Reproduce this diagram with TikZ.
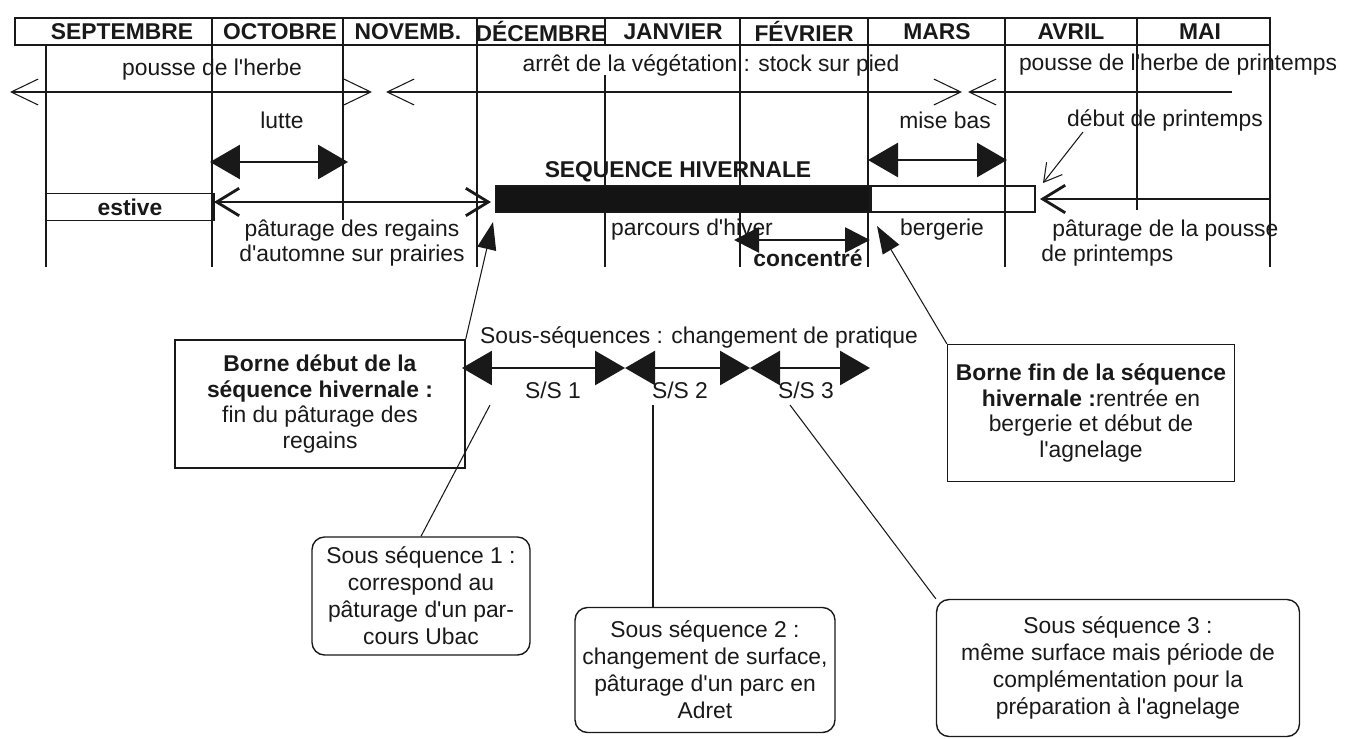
\documentclass[tikz,border=0pt]{standalone}
\usepackage{fontspec}
\setmainfont{Liberation Sans}[Ligatures=TeXOff]
\usetikzlibrary{arrows.meta, positioning, calc}
\definecolor{inkblack}{RGB}{25,25,25}
\definecolor{barblack}{RGB}{20,20,20}
\tikzset{
    barb/.tip={Straight Barb[length=0.54cm, width=0.52cm]},
    fatbarb/.tip={Straight Barb[length=0.45cm, width=0.55cm]},
    bigtri/.tip={Triangle[length=0.6cm, width=0.68cm]},
    midtri/.tip={Triangle[length=0.5cm, width=0.5cm]},
    ptri/.tip={Triangle[length=0.55cm, width=0.38cm]}
}

\begin{document}
\begin{tikzpicture}[x=0.02cm, y=-0.02cm, inkblack,
        txt/.style={inner sep=0pt, font=\fontsize{13pt}{14.7pt}\selectfont},
        bold/.style={inner sep=0pt, font=\fontsize{13pt}{14.7pt}\selectfont\bfseries},
        borne/.style={rectangle, draw, line width=0.8pt, align=center, inner sep=0pt, font=\fontsize{13pt}{14.5pt}\selectfont},
        sous/.style={rectangle, rounded corners=0.25cm, draw, line width=0.8pt, align=center, inner sep=0pt, font=\fontsize{13pt}{15.3pt}\selectfont},
        thin/.style={line width=0.6pt},
        timeline/.style={thin, barb-barb},
        bigarrow/.style={line width=1.6pt, bigtri-bigtri},
        pointer/.style={thin, -ptri}
    ]
        \useasboundingbox (0,0) rectangle (1346,738);

        % months
        \draw[line width=1pt] (15,18) rectangle (1270,45);
        \foreach \x in {212,343,477,605,740,868,1005,1137}
            \draw[thin] (\x,18) -- (\x,45);
        \foreach \name/\x [count=\i] in {SEPTEMBRE/122, OCTOBRE/280, NOVEMB./408, DÉCEMBRE/541, JANVIER/673, FÉVRIER/804, MARS/937, AVRIL/1071, MAI/1200}
            \node[bold] (m\i) at (\x,31.5) {\name};
        \foreach \x/\ya/\yb in {46/45/267, 212/45/267, 343/45/220, 477/45/267, 605/75/267, 740/45/267, 868/45/267, 1005/45/267, 1137/45/210, 1270/45/267}
            \draw[thin] (\x,\ya) -- (\x,\yb);

        % vegetation
        \node[txt] (herbe) at (212,70) {pousse de l'herbe};
        \node[txt] (arret) at (711,65) {arrêt de la végétation : stock sur pied};
        \node[txt] (herbepr) at (1178,65) {pousse de l'herbe de printemps};
        \coordinate (t0) at (10,92);
        \coordinate (t1) at (372,92);
        \coordinate (t2) at (386,92);
        \coordinate (t3) at (962,92);
        \coordinate (t4) at (968,92);
        \coordinate (t5) at (1232,92);
        \draw[timeline] (t0) -- (t1);
        \draw[timeline] (t2) -- (t3);
        \draw[thin, barb-] (t4) -- (t5);

        \node[txt] (lutte) at (282,120) {lutte};
        \node[txt] (misebas) at (945,120) {mise bas};
        \node[txt] (debutpr) at (1165,120) {début de printemps};
        \coordinate (l1) at (210,162);
        \coordinate (l2) at (348,162);
        \coordinate (mb1) at (868,160);
        \coordinate (mb2) at (1007,160);
        \draw[bigarrow] (l1) -- (l2);
        \draw[bigarrow] (mb1) -- (mb2);

        % sequence
        \node[bold] (seq) at (678,172) {SEQUENCE HIVERNALE};
        \node[draw, thin, fill=barblack, minimum width=7.5cm, minimum height=0.52cm, inner sep=0pt] (hiver) at (682.5,199) {};
        \node[draw, thin, minimum width=3.28cm, minimum height=0.52cm, inner sep=0pt, right=0pt of hiver] (berg) {};
        \node[draw, thin, minimum width=3.36cm, minimum height=0.54cm, inner sep=0pt, font=\fontsize{13pt}{14.7pt}\selectfont\bfseries] (estive) at (130,207) {estive};
        \coordinate (pa1) at (214,202);
        \coordinate (pa2) at (491,202);
        \draw[line width=1.6pt, fatbarb-fatbarb] (pa1) -- (pa2);
        \coordinate (r1) at (1270,199);
        \coordinate (r0) at (1040,199);
        \draw[line width=1.6pt, -fatbarb] (r1) -- (r0);
        \coordinate (dp1) at (1083,132);
        \coordinate (dp2) at (1043,183);
        \draw[thin, -{Straight Barb[length=0.35cm, width=0.4cm]}] (dp1) -- (dp2);

        \node[txt, align=center] (regains) at (352,243) {pâturage des regains\\d'automne sur prairies};
        \node[txt] (parcours) at (692,230) {parcours d'hiver};
        \node[txt] (bergerie) at (942,230) {bergerie};
        \node[txt, align=left, anchor=west] (pousse) at (1041,243) {\hspace*{0.22cm}pâturage de la pousse\\de printemps};
        \coordinate (c1) at (734,240);
        \coordinate (c2) at (870,240);
        \draw[line width=1.6pt, midtri-midtri] (c1) -- (c2);
        \node[bold] (conc) at (808,258) {concentré};

        % sous-sequences
        \node[txt] (ssq) at (699,337) {Sous-séquences : changement de pratique};
        \coordinate (s0) at (462,368);
        \coordinate (s1) at (625,368);
        \coordinate (s2) at (750,368);
        \coordinate (s3) at (870,368);
        \draw[bigarrow] (s0) -- (s1);
        \draw[bigarrow] (s1) -- (s2);
        \draw[bigarrow] (s2) -- (s3);
        \node[txt] (ss1) at (553,390) {S/S 1};
        \node[txt] (ss2) at (680,390) {S/S 2};
        \node[txt] (ss3) at (806,390) {S/S 3};

        \node[borne, minimum width=5.8cm, minimum height=2.56cm] (bdeb) at (320,404) {\textbf{Borne début de la}\\\textbf{séquence hivernale :}\\fin du pâturage des\\regains};
        \node[borne, minimum width=5.74cm, minimum height=2.74cm] (bfin) at (1091,413) {\textbf{Borne fin de la séquence}\\\textbf{hivernale :}rentrée en\\bergerie et début de\\l'agnelage};
        \coordinate (bdtip) at (493,222);
        \coordinate (bftip) at (877,226);
        \draw[pointer] (bdeb.north east) -- (bdtip);
        \draw[pointer] (bfin.north west) -- (bftip);

        \node[sous, minimum width=4.36cm, minimum height=2.36cm] (sous1) at (421,596) {Sous séquence 1 :\\correspond au\\pâturage d'un par-\\cours Ubac};
        \node[sous, minimum width=5.2cm, minimum height=2.5cm] (sous2) at (705,670) {Sous séquence 2 :\\changement de surface,\\pâturage d'un parc en\\Adret};
        \node[sous, minimum width=7.26cm, minimum height=2.74cm] (sous3) at (1118,668) {Sous séquence 3 :\\même surface mais période de\\complémentation pour la\\préparation à l'agnelage};
        \coordinate (p1) at (490,405);
        \coordinate (p2) at (653,405);
        \coordinate (p3) at (790,405);
        \draw[thin] (p1) -- (sous1.north);
        \draw[thin] (p2) -- (p2 |- sous2.north);
        \draw[thin] (p3) -- (sous3.north west);
    \end{tikzpicture}
\end{document}
